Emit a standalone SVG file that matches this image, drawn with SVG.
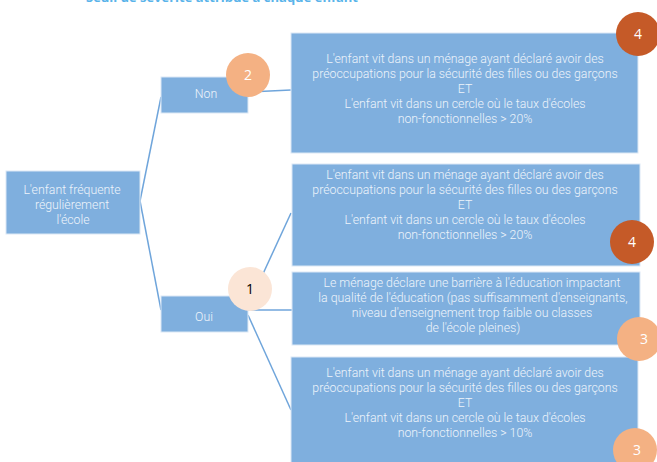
<svg xmlns="http://www.w3.org/2000/svg" width="657" height="462" viewBox="0 0 657 462">
<style>
.box{fill:#7FAFDE;stroke:#DCE8F5;stroke-width:1}
.t{font-family:Roboto,"Liberation Sans",sans-serif;font-weight:300;font-size:12.3px;fill:#EEF4FB;text-anchor:middle}
.c{font-family:"Open Sans","Liberation Sans",sans-serif;font-size:14px;text-anchor:middle}
.ln{stroke:#6FA5DB;stroke-width:1.5;fill:none}
</style>
<text x="222" y="2" font-family="Open Sans, Liberation Sans, sans-serif" font-size="13" font-weight="bold" fill="#5AB4EA" text-anchor="middle">Seuil de sévérité attribué à chaque enfant</text>
<g id="connectors">
<line class="ln" x1="140" y1="201" x2="161" y2="97"/>
<line class="ln" x1="140" y1="201" x2="161" y2="310"/>
<line class="ln" x1="248" y1="92" x2="291" y2="90"/>
<line class="ln" x1="262" y1="276" x2="291" y2="213"/>
<line class="ln" x1="248" y1="310" x2="292" y2="310"/>
<line class="ln" x1="248" y1="315" x2="291" y2="410"/>
</g>
<g id="root">
<rect class="box" x="6" y="171" width="134" height="63"/>
<text class="t" x="72" y="194">L'enfant fréquente</text>
<text class="t" x="72" y="209">régulièrement</text>
<text class="t" x="73" y="224">l'école</text>
</g>
<g id="non">
<rect class="box" x="161" y="77" width="87" height="36"/>
<text class="t" x="206" y="98">Non</text>
</g>
<g id="oui">
<rect class="box" x="161" y="296" width="87" height="36"/>
<text class="t" x="204" y="321">Oui</text>
</g>
<g id="box1">
<rect class="box" x="291" y="33" width="347" height="120"/>
<text class="t" x="465" y="63">L'enfant vit dans un ménage ayant déclaré avoir des</text>
<text class="t" x="465" y="78">préoccupations pour la sécurité des filles ou des garçons</text>
<text class="t" x="465" y="93">ET</text>
<text class="t" x="465" y="108">L'enfant vit dans un cercle où le taux d'écoles</text>
<text class="t" x="465" y="123">non-fonctionnelles &gt; 20%</text>
</g>
<g id="box2">
<rect class="box" x="292" y="164" width="348" height="102"/>
<text class="t" x="465" y="179">L'enfant vit dans un ménage ayant déclaré avoir des</text>
<text class="t" x="465" y="194">préoccupations pour la sécurité des filles ou des garçons</text>
<text class="t" x="465" y="209">ET</text>
<text class="t" x="465" y="224">L'enfant vit dans un cercle où le taux d'écoles</text>
<text class="t" x="465" y="239">non-fonctionnelles &gt; 20%</text>
</g>
<g id="box3">
<rect class="box" x="292" y="272" width="348" height="73"/>
<text class="t" x="472" y="287">Le ménage déclare une barrière à l'éducation impactant</text>
<text class="t" x="473" y="302">la qualité de l'éducation (pas suffisamment d'enseignants,</text>
<text class="t" x="472" y="317">niveau d'enseignement trop faible ou classes</text>
<text class="t" x="473" y="332">de l'école pleines)</text>
</g>
<g id="box4">
<rect class="box" x="291" y="357" width="347" height="110"/>
<text class="t" x="465" y="377">L'enfant vit dans un ménage ayant déclaré avoir des</text>
<text class="t" x="465" y="392">préoccupations pour la sécurité des filles ou des garçons</text>
<text class="t" x="465" y="407">ET</text>
<text class="t" x="465" y="422">L'enfant vit dans un cercle où le taux d'écoles</text>
<text class="t" x="465" y="437">non-fonctionnelles &gt; 10%</text>
</g>
<g id="badge2">
<circle cx="248" cy="75" r="22" fill="#F4B183"/>
<text class="c" x="248" y="80" fill="#FFFFFF">2</text>
</g>
<g id="badge1">
<circle cx="250" cy="289" r="22" fill="#FBE5D6"/>
<text class="c" x="250" y="294" fill="#000000">1</text>
</g>
<g id="badge4a">
<circle cx="638" cy="34" r="22" fill="#C55A28"/>
<text class="c" x="638" y="39" fill="#FFFFFF">4</text>
</g>
<g id="badge4b">
<circle cx="632" cy="242" r="22" fill="#C55A28"/>
<text class="c" x="632" y="247" fill="#FFFFFF">4</text>
</g>
<g id="badge3a">
<circle cx="639" cy="339" r="22" fill="#F4B183"/>
<text class="c" x="644" y="344" fill="#FFFFFF">3</text>
</g>
<g id="badge3b">
<circle cx="635" cy="450" r="22" fill="#F4B183"/>
<text class="c" x="637" y="455" fill="#FFFFFF">3</text>
</g>
</svg>
